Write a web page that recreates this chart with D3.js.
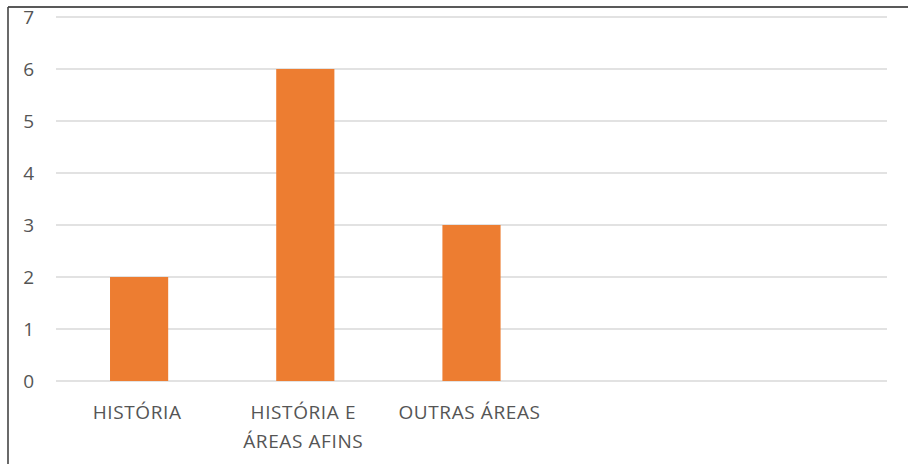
<!DOCTYPE html>
<html>
<head>
<meta charset="utf-8">
<script src="https://cdn.jsdelivr.net/npm/d3@7"></script>
<style>
  html, body { margin: 0; padding: 0; background: #fff; }
  svg { display: block; }
  text { font-family: "Open Sans", sans-serif; fill: #555; font-weight: 500; }
</style>
</head>
<body>
<svg id="chart" width="908" height="464"></svg>
<script>
// Category slots (the last two are empty placeholders on the axis)
const categories = ["HISTÓRIA", "HISTÓRIA E|ÁREAS AFINS", "OUTRAS ÁREAS", "", " "];
const values = [2, 6, 3, null, null];
const yTicks = [0, 1, 2, 3, 4, 5, 6, 7];

const svg = d3.select("#chart");
const W = 908, H = 464;
const plot = { left: 56, right: 887, top: 17, bottom: 381 };

// Frame (left and top edges)
svg.append("line").attr("x1", 8).attr("x2", W).attr("y1", 7).attr("y2", 7)
  .attr("stroke", "#222").attr("stroke-width", 1.6);
svg.append("line").attr("x1", 8).attr("x2", 8).attr("y1", 7).attr("y2", H)
  .attr("stroke", "#444").attr("stroke-width", 1.6);

const x = d3.scaleBand().domain(categories)
  .range([plot.left, plot.right]).paddingInner(0.65).paddingOuter(0.325);
const y = d3.scaleLinear().domain([0, 7]).range([plot.bottom, plot.top]);

// Gridlines
svg.append("g").selectAll("line").data(yTicks).join("line")
  .attr("x1", plot.left).attr("x2", plot.right)
  .attr("y1", d => y(d)).attr("y2", d => y(d))
  .attr("stroke", "#d9d9d9").attr("stroke-width", 1.6);

// Y tick labels
svg.append("g").selectAll("text").data(yTicks).join("text")
  .attr("x", 34).attr("y", d => y(d))
  .attr("text-anchor", "end").attr("dominant-baseline", "central")
  .attr("font-size", 19)
  .text(d => d);

// Bars
const bars = categories.map((c, i) => ({ c, v: values[i] })).filter(d => d.v != null);
svg.append("g").selectAll("rect").data(bars).join("rect")
  .attr("x", d => x(d.c))
  .attr("width", x.bandwidth())
  .attr("y", d => y(d.v))
  .attr("height", d => y(0) - y(d.v))
  .attr("fill", "#ed7d31");

// Category labels (multi-line split on "|")
const labels = svg.append("g").selectAll("text").data(categories.filter(c => c.trim() !== "")).join("text")
  .attr("x", d => x(d) + x.bandwidth() / 2 - 2)
  .attr("y", 419)
  .attr("text-anchor", "middle")
  .attr("font-size", 19)
  .attr("letter-spacing", 0.6);
labels.each(function(d) {
  const t = d3.select(this);
  d.split("|").forEach((line, i) => {
    t.append("tspan").attr("x", t.attr("x")).attr("dy", i === 0 ? 0 : 29).text(line);
  });
});
</script>
</body>
</html>
